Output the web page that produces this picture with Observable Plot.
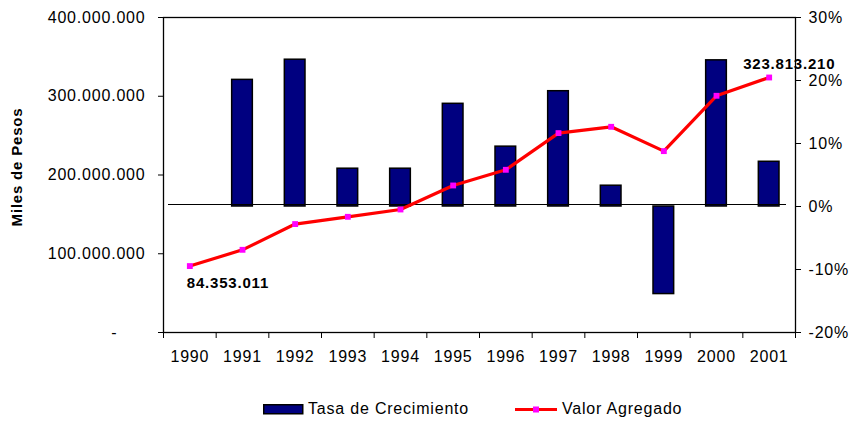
<!DOCTYPE html>
<html>
<head>
<meta charset="utf-8">
<script src="https://cdn.jsdelivr.net/npm/d3@7"></script>
<script src="https://cdn.jsdelivr.net/npm/@observablehq/plot@0.6"></script>
<style>
  html, body { margin: 0; padding: 0; background: #fff; }
  body { width: 850px; height: 424px; position: relative; font-family: "Liberation Sans", Arial, sans-serif; }
  #legend { position: absolute; top: 398px; left: 0; width: 850px; height: 22px; font-size: 16px; letter-spacing: 0.8px; color: #000; }
  #legend .item { position: absolute; top: 0; display: flex; align-items: center; height: 22px; }
  #legend svg { margin-right: 4px; }
</style>
</head>
<body>
<div id="chart"></div>
<div id="legend">
  <div class="item" style="left:263px"><svg width="41" height="11"><rect x="0.75" y="0.75" width="39" height="9" fill="#000080" stroke="#000" stroke-width="1.5"/></svg><span>Tasa de Crecimiento</span></div>
  <div class="item" style="left:515px"><svg width="43" height="11"><line x1="0" x2="42" y1="5.5" y2="5.5" stroke="#ff0000" stroke-width="3"/><rect x="18" y="2.5" width="6" height="6" fill="#ff00ff"/></svg><span>Valor Agregado</span></div>
</div>
<script>
const years = [1990, 1991, 1992, 1993, 1994, 1995, 1996, 1997, 1998, 1999, 2000, 2001];
const tasaCrecimiento = [null, 20.1, 23.3, 6.0, 6.0, 16.3, 9.5, 18.3, 3.3, -13.9, 23.2, 7.1];
const valorAgregado = [84353011, 105000000, 137700000, 146900000, 156200000, 186700000, 206600000, 253200000, 261200000, 230300000, 300600000, 323813210];
const leftTicks = [0, 100000000, 200000000, 300000000, 400000000];
const rightTicks = [-20, -10, 0, 10, 20, 30];
const leftMax = 400000000;
const rightMin = -20, rightMax = 30;

const pctToY = p => (p - rightMin) / (rightMax - rightMin) * leftMax;
const yToPct = v => v / leftMax * (rightMax - rightMin) + rightMin;
const fmtNum = v => d3.format(",")(v).replace(/,/g, ".");

const rows = years.map((y, i) => ({year: y, tasa: tasaCrecimiento[i], valor: valorAgregado[i]}));
const barRows = rows.filter(d => d.tasa != null);
const labelFirst = [rows[0]];
const labelLast = [rows[rows.length - 1]];
const boundaries = years.map(y => y - 0.5).concat([years[years.length - 1] + 0.5]);

const font = "'Liberation Sans', Arial, sans-serif";

const chart = Plot.plot({
  width: 850,
  height: 380,
  marginTop: 17,
  marginBottom: 48,
  marginLeft: 163,
  marginRight: 55,
  style: {fontFamily: font, fontSize: "16px", color: "#000", background: "#fff", letterSpacing: "0.8px"},
  x: {type: "linear", domain: [years[0] - 0.5, years[years.length - 1] + 0.5]},
  y: {domain: [0, leftMax]},
  marks: [
    Plot.frame({stroke: "#000", strokeWidth: 1.3}),
    Plot.rectY(barRows, {
      x1: d => d.year - 0.5, x2: d => d.year + 0.5,
      y1: pctToY(0), y2: d => pctToY(d.tasa),
      insetLeft: 16, insetRight: 16,
      fill: "#000080", stroke: "#000", strokeWidth: 1.5
    }),
    Plot.ruleY([pctToY(0)], {stroke: "#000", strokeWidth: 1.2, insetLeft: 5, insetRight: 9, dy: -2}),
    Plot.line(rows, {x: "year", y: "valor", stroke: "#ff0000", strokeWidth: 3.2}),
    Plot.dot(rows, {x: "year", y: "valor", symbol: "square", r: 3.3, fill: "#ff00ff", stroke: "none"}),
    Plot.text(labelFirst, {x: "year", y: "valor", text: d => fmtNum(d.valor), textAnchor: "start", lineAnchor: "top", dx: -3, dy: 11, fontWeight: "bold", fontSize: 15}),
    Plot.text(labelLast, {x: "year", y: "valor", text: d => fmtNum(d.valor), textAnchor: "start", lineAnchor: "bottom", dx: -26, dy: -8, fontWeight: "bold", fontSize: 15}),
    Plot.axisY({anchor: "left", ticks: leftTicks, tickSize: 5, tickPadding: 13, label: null,
      tickFormat: v => v === 0 ? "-\u2007\u2007\u2002" : fmtNum(v)}),
    Plot.axisY({anchor: "right", ticks: rightTicks.map(pctToY), tickSize: 5, tickPadding: 8, label: null,
      tickFormat: v => Math.round(yToPct(v)) + "%"}),
    Plot.axisX({ticks: boundaries, tickSize: 6, tickFormat: () => "", label: null}),
    Plot.axisX({ticks: years, tickSize: 0, tickPadding: 18, tickFormat: d => String(d), label: null}),
    Plot.text(["Miles de Pesos"], {frameAnchor: "left", textAnchor: "middle", dx: -146, dy: -8, rotate: -90, fontWeight: "bold", fontSize: 15, letterSpacing: "0.6px"})
  ]
});
document.getElementById("chart").appendChild(chart);
</script>
</body>
</html>
